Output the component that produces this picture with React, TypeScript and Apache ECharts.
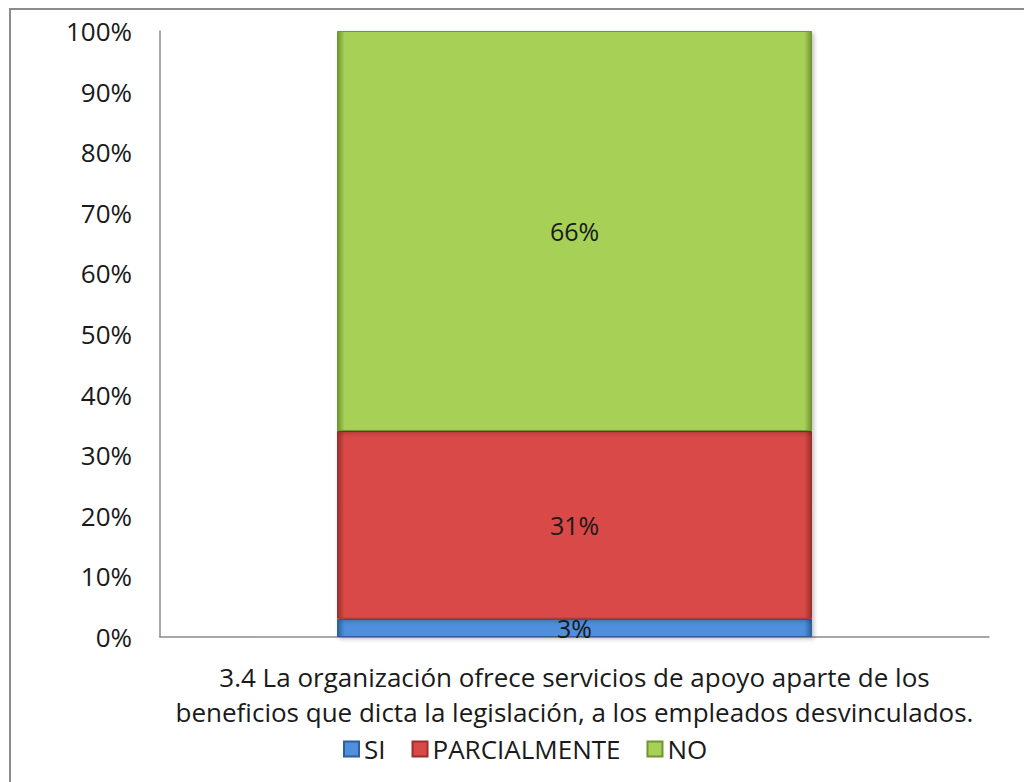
import React, { useEffect, useRef } from "react";
import * as echarts from "echarts";

const categories = [
  "3.4 La organización ofrece servicios de apoyo aparte de los\nbeneficios que dicta la legislación, a los empleados desvinculados.",
];
const seriesNames = ["SI", "PARCIALMENTE", "NO"];
const siValues = [3];
const parcialValues = [31];
const noValues = [66];

const FONT = "Open Sans";

function bevel(dark: string, mid: string) {
  return new echarts.graphic.LinearGradient(0, 0, 1, 0, [
    { offset: 0, color: dark },
    { offset: 0.015, color: mid },
    { offset: 0.985, color: mid },
    { offset: 1, color: dark },
  ]);
}

export default function App() {
  const ref = useRef<HTMLDivElement>(null);
  useEffect(() => {
    if (!ref.current) return;
    const chart = echarts.init(ref.current, undefined, { renderer: "svg" });
    const label = {
      show: true,
      position: "inside" as const,
      formatter: "{c}%",
      color: "#1a1a1a",
      fontFamily: FONT,
      fontSize: 25,
    };
    const colors = [
      { dark: "#2f5f9a", mid: "#4f8fdc" },
      { dark: "#9a2f2c", mid: "#d94a46" },
      { dark: "#6f9530", mid: "#a6d057" },
    ];
    const data = [siValues, parcialValues, noValues];
    chart.setOption({
      animation: false,
      backgroundColor: "#ffffff",
      graphic: [
        {
          type: "rect",
          shape: { x: 10, y: 9, width: 1030, height: 790 },
          style: { fill: "none", stroke: "#8c8c8c", lineWidth: 2 },
          silent: true,
        },
      ],
      grid: { left: 160, top: 31, right: 35, bottom: 145, containLabel: false },
      legend: {
        left: 338,
        top: 731,
        itemWidth: 15,
        itemHeight: 15,
        itemGap: 26,
        icon: "rect",
        textStyle: { fontFamily: FONT, fontSize: 26, color: "#1a1a1a" },
        data: seriesNames,
      },
      xAxis: {
        type: "category",
        data: categories,
        axisLine: { lineStyle: { color: "#8c8c8c", width: 1.5 } },
        axisTick: { show: false },
        axisLabel: {
          fontFamily: FONT,
          fontSize: 26,
          color: "#1a1a1a",
          lineHeight: 35,
          margin: 22,
        },
      },
      yAxis: {
        type: "value",
        min: 0,
        max: 100,
        interval: 10,
        axisLine: { show: true, lineStyle: { color: "#8c8c8c", width: 1.5 } },
        axisTick: { show: false },
        splitLine: { show: false },
        axisLabel: {
          formatter: "{value}%",
          fontFamily: FONT,
          fontSize: 26,
          color: "#1a1a1a",
          margin: 28,
        },
      },
      series: seriesNames.map((name, i) => ({
        name,
        type: "bar",
        stack: "total",
        barWidth: 475,
        data: data[i],
        label,
        itemStyle: {
          color: bevel(colors[i].dark, colors[i].mid),
          borderColor: colors[i].dark,
          borderWidth: 1,
          shadowColor: "rgba(0,0,0,0.25)",
          shadowBlur: 4,
          shadowOffsetX: 2,
          shadowOffsetY: 2,
        },
      })),
    });
    return () => chart.dispose();
  }, []);
  return (
    <div
      ref={ref}
      style={{ position: "absolute", left: 0, top: 0, width: 1024, height: 782 }}
    />
  );
}
